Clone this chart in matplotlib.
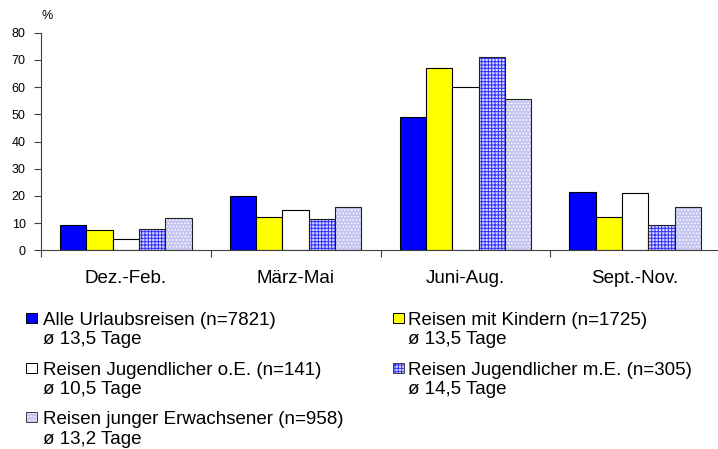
import numpy as np
import matplotlib
matplotlib.use("Agg")
import matplotlib.pyplot as plt
from matplotlib.patches import Rectangle

plt.rcParams['font.family'] = ['Liberation Sans', 'DejaVu Sans']
plt.rcParams['hatch.linewidth'] = 0.7

# data (percent of trips per season)
seasons = ['Dez.-Feb.', 'März-Mai', 'Juni-Aug.', 'Sept.-Nov.']
alle = [9.2, 19.9, 48.9, 21.4]
kinder = [7.6, 12.4, 67.0, 12.4]
jugend_oe = [4.3, 14.8, 60.2, 21.2]
jugend_me = [7.7, 11.6, 71.1, 9.4]
junge_erw = [11.8, 15.9, 55.6, 15.9]

labels = ['Alle Urlaubsreisen (n=7821)', 'Reisen mit Kindern (n=1725)',
          'Reisen Jugendlicher o.E. (n=141)', 'Reisen Jugendlicher m.E. (n=305)',
          'Reisen junger Erwachsener (n=958)']
dauer = ['ø 13,5 Tage', 'ø 13,5 Tage', 'ø 10,5 Tage', 'ø 14,5 Tage', 'ø 13,2 Tage']

series = [alle, kinder, jugend_oe, jugend_me, junge_erw]
# face colour, hatch, hatch colour
styles = [('#0000ff', None, None),
          ('#ffff00', None, None),
          ('#ffffff', None, None),
          ('#d8d8ff', '+++++', '#3030ff'),
          ('#c4c4f2', '.....', '#ffffff')]

fig = plt.figure(figsize=(7.18, 4.49), dpi=100)
ax = fig.add_axes([41/718, 198.7/449, 679/718, 217.6/449])

w = 0.155
x = np.arange(len(seasons)) + 0.5
for k, (vals, (fc, h, hc)) in enumerate(zip(series, styles)):
    pos = x + (k - 2) * w
    if h is None:
        ax.bar(pos, vals, w, color=fc, edgecolor='black', linewidth=0.8)
    else:
        ax.bar(pos, vals, w, color=fc, edgecolor=hc, hatch=h, linewidth=0)
        ax.bar(pos, vals, w, color='none', edgecolor='#202020', linewidth=0.8)

ax.set_xlim(0, 4)
ax.set_ylim(0, 80)
ax.set_yticks(np.arange(0, 81, 10))
ax.set_xticks(np.arange(0, 5))
ax.set_xticklabels([])
ax.set_xticks(x, minor=True)
ax.set_xticklabels(seasons, minor=True, fontsize=13.5)
ax.tick_params(axis='x', which='minor', length=0, pad=14)
ax.tick_params(axis='x', which='major', length=5, width=0.8, color='#404040')
ax.tick_params(axis='y', length=5, width=0.8, color='#404040', pad=6, labelsize=9)
for s in ['top', 'right']:
    ax.spines[s].set_visible(False)
for s in ['left', 'bottom']:
    ax.spines[s].set_color('#404040')
    ax.spines[s].set_linewidth(0.8)

fig.text(41/718, 1 - 19/449, '%', fontsize=9, va='baseline')

# legend drawn by hand: two columns, handle next to first line
col_x = [26, 393]
text_x = [43, 408]
row_y = [325, 375, 424]
for k in range(5):
    cx = col_x[k % 2]
    tx = text_x[k % 2]
    by = row_y[k // 2]
    fc, h, hc = styles[k]
    sq = 10.6
    y0 = 1 - (by - 1.8)/449
    if h is None:
        fig.patches.append(Rectangle((cx/718, y0), sq/718, sq/449,
                                     transform=fig.transFigure, facecolor=fc,
                                     edgecolor='black', linewidth=0.7))
    else:
        fig.patches.append(Rectangle((cx/718, y0), sq/718, sq/449,
                                     transform=fig.transFigure, facecolor=fc,
                                     edgecolor=hc, hatch=h, linewidth=0))
        fig.patches.append(Rectangle((cx/718, y0), sq/718, sq/449,
                                     transform=fig.transFigure, facecolor='none',
                                     edgecolor='#404040', linewidth=0.7))
    fig.text(tx/718, 1 - by/449, labels[k], fontsize=13.5, va='baseline')
    fig.text(tx/718, 1 - (by + 19.5)/449, dauer[k], fontsize=13.5, va='baseline')

fig.savefig('out.png', dpi=100)
